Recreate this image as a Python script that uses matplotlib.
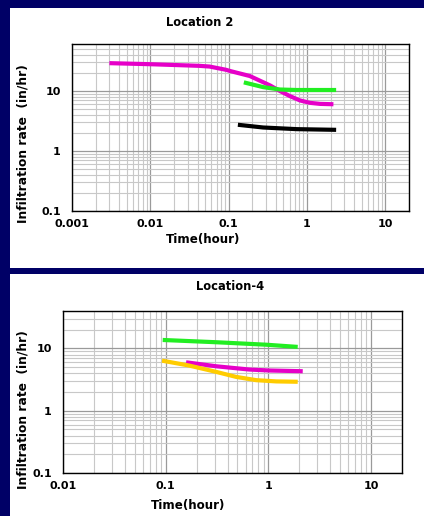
import matplotlib
matplotlib.use("Agg")
import matplotlib.pyplot as plt
from matplotlib.patches import Rectangle
from matplotlib.ticker import LogLocator, FixedLocator, NullFormatter
import numpy as np

# Location 2 series (time in hours, infiltration rate in in/hr)
loc2_magenta_t = [0.003, 0.0097, 0.042, 0.057, 0.093, 0.103, 0.186, 0.336, 0.451, 0.605, 0.813, 1.09, 1.47, 2.17]
loc2_magenta_r = [28.8, 27.7, 26.0, 25.3, 22.3, 21.4, 17.6, 12.3, 9.9, 8.15, 6.9, 6.3, 6.05, 5.97]
loc2_green_t = [0.156, 0.275, 0.451, 0.738, 2.35]
loc2_green_r = [13.8, 11.5, 10.5, 10.3, 10.3]
loc2_black_t = [0.131, 0.275, 0.738, 2.35]
loc2_black_r = [2.72, 2.45, 2.30, 2.24]

# Location-4 series
loc4_green_t = [0.0935, 0.31, 0.95, 1.93]
loc4_green_r = [13.7, 12.6, 11.5, 10.6]
loc4_magenta_t = [0.158, 0.31, 0.653, 1.02, 2.16]
loc4_magenta_r = [6.0, 5.18, 4.59, 4.43, 4.31]
loc4_yellow_t = [0.092, 0.17, 0.31, 0.484, 0.76, 1.19, 1.93]
loc4_yellow_r = [6.38, 5.31, 4.21, 3.50, 3.10, 2.96, 2.92]

W, H = 424, 516
navy = "#000066"
fig = plt.figure(figsize=(W / 100, H / 100), dpi=100, facecolor=navy)

def px_rect(x0, y0, x1, y1):
    # convert pixel box (top-left origin) into figure fraction
    return [x0 / W, 1 - y1 / H, (x1 - x0) / W, (y1 - y0) / H]

# white panels behind the charts
for (x0, y0, x1, y1) in [(10, 8, 424, 268), (10, 274, 424, 516)]:
    b = px_rect(x0, y0, x1, y1)
    fig.patches.append(Rectangle((b[0], b[1]), b[2], b[3], transform=fig.transFigure,
                                 facecolor="white", edgecolor="none", zorder=-10))

font = dict(fontweight="bold", family="DejaVu Sans")

def setup_axes(ax, xlim, ylim, xticks, xlabels):
    ax.set_xscale("log")
    ax.set_yscale("log")
    ax.set_xlim(*xlim)
    ax.set_ylim(*ylim)
    ax.xaxis.set_major_locator(FixedLocator(xticks))
    ax.set_xticklabels(xlabels, fontsize=8, fontweight="bold")
    ax.xaxis.set_minor_locator(LogLocator(base=10, subs=np.arange(2, 10), numticks=20))
    ax.xaxis.set_minor_formatter(NullFormatter())
    ax.yaxis.set_major_locator(FixedLocator([0.1, 1, 10]))
    ax.set_yticklabels(["0.1", "1", "10"], fontsize=8, fontweight="bold")
    ax.yaxis.set_minor_locator(LogLocator(base=10, subs=np.arange(2, 10), numticks=20))
    ax.yaxis.set_minor_formatter(NullFormatter())
    ax.grid(which="major", color="#9a9a9a", linewidth=0.9)
    ax.grid(which="minor", color="#c8c8c8", linewidth=0.8)
    ax.set_axisbelow(True)
    ax.tick_params(axis="x", which="both", length=0, pad=6)
    ax.tick_params(axis="y", which="both", length=0, pad=8)
    for s in ax.spines.values():
        s.set_linewidth(1.0)
        s.set_color("black")

def curve(ax, t, r, color):
    ax.plot(t, r, color=color, lw=3, solid_capstyle="butt", solid_joinstyle="round")

# top chart
ax1 = fig.add_axes(px_rect(72, 44, 409, 211))
setup_axes(ax1, (0.001, 20), (0.1, 60), [0.001, 0.01, 0.1, 1, 10],
           ["0.001", "0.01", "0.1", "1", "10"])
curve(ax1, loc2_magenta_t, loc2_magenta_r, "#e600c8")
curve(ax1, loc2_green_t, loc2_green_r, "#22ee22")
curve(ax1, loc2_black_t, loc2_black_r, "black")

# bottom chart
ax2 = fig.add_axes(px_rect(63, 311, 402, 473))
setup_axes(ax2, (0.01, 20), (0.1, 40), [0.01, 0.1, 1, 10],
           ["0.01", "0.1", "1", "10"])
curve(ax2, loc4_green_t, loc4_green_r, "#22ee22")
curve(ax2, loc4_magenta_t, loc4_magenta_r, "#e600c8")
curve(ax2, loc4_yellow_t, loc4_yellow_r, "#ffcc00")

def ftext(x, y, s, **kw):
    fig.text(x / W, 1 - y / H, s, ha="center", va="center", **font, **kw)

ftext(200, 23, "Location 2", fontsize=8.3)
ftext(203, 240, "Time(hour)", fontsize=8.6)
ftext(23, 144, "Infiltration rate  (in/hr)", fontsize=8.8, rotation=90)

ftext(230, 286, "Location-4", fontsize=8.3)
ftext(188, 506, "Time(hour)", fontsize=8.6)
ftext(23, 410, "Infiltration rate  (in/hr)", fontsize=8.8, rotation=90)

fig.savefig("out.png", dpi=100, facecolor=navy)
